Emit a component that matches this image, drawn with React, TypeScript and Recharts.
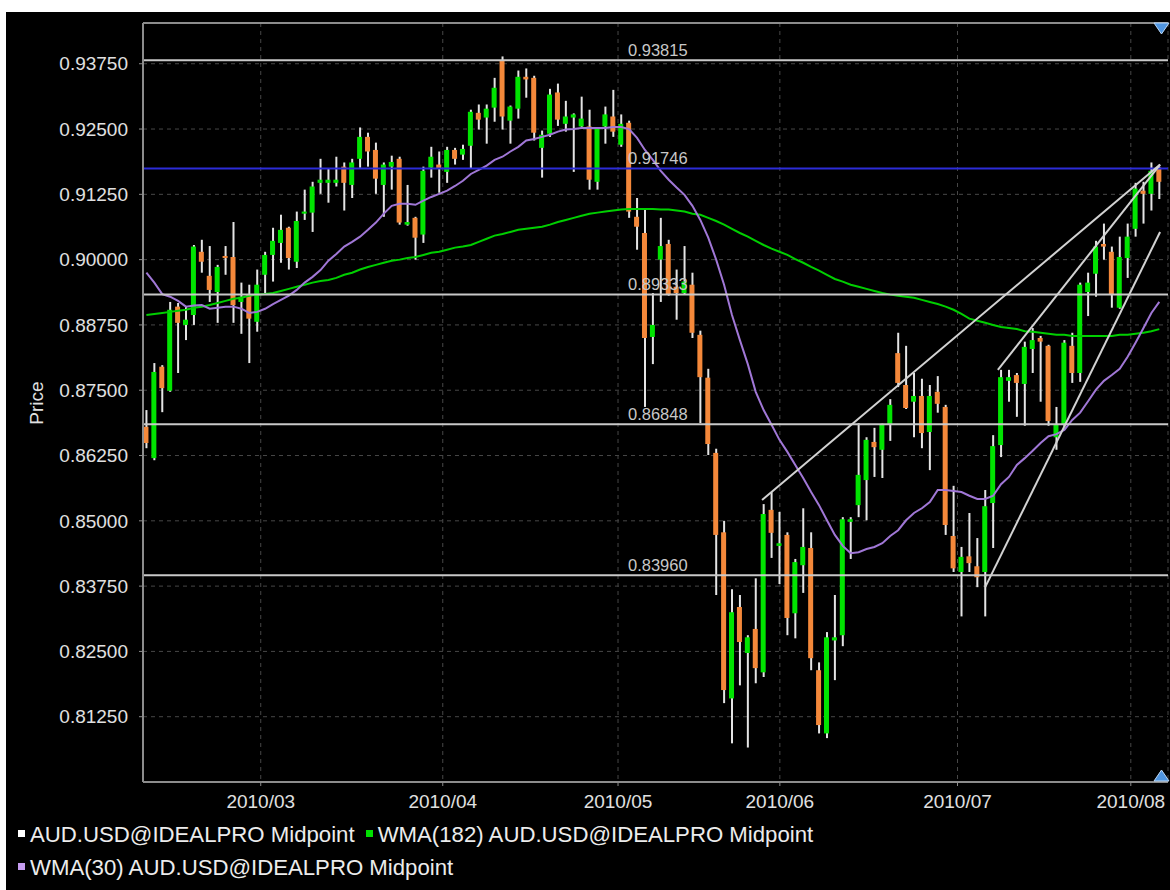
import React from 'react';
import { ComposedChart, Bar, Line, XAxis, YAxis, CartesianGrid, ReferenceLine } from 'recharts';

// daily candles, AUD.USD midpoint (Feb 8 - Aug 5 2010)
const opens = [
  0.868, 0.862, 0.8795, 0.8749, 0.891, 0.8875, 0.8894, 0.9015, 0.8969, 0.8938,
  0.9007, 0.9005, 0.8919, 0.8933, 0.8881, 0.8971, 0.9009, 0.9032, 0.9061, 0.8996,
  0.9088, 0.909, 0.9147, 0.9147, 0.9147, 0.9178, 0.9143, 0.9193, 0.9235, 0.921,
  0.9143, 0.9178, 0.9193, 0.9067, 0.908, 0.9048, 0.9176, 0.9182, 0.9168, 0.921,
  0.9201, 0.9218, 0.9281, 0.9272, 0.9291, 0.9381, 0.9266, 0.9289, 0.935, 0.9348,
  0.9214, 0.9241, 0.932, 0.926, 0.9272, 0.9255, 0.9255, 0.9149, 0.9255, 0.9274,
  0.922, 0.9262, 0.9082, 0.9051, 0.8852, 0.9, 0.903, 0.8948, 0.8936, 0.8952,
  0.8856, 0.8774, 0.863, 0.8478, 0.816, 0.8335, 0.8247, 0.8293, 0.821, 0.8521,
  0.8452, 0.8473, 0.8323, 0.8415, 0.8448, 0.8214, 0.8093, 0.8271, 0.8281, 0.8498,
  0.853, 0.8578, 0.8651, 0.8636, 0.8685, 0.8821, 0.876, 0.8728, 0.8739, 0.867,
  0.8747, 0.8718, 0.8471, 0.8402, 0.8432, 0.8413, 0.8402, 0.8534, 0.8645, 0.8768,
  0.8779, 0.8762, 0.8829, 0.885, 0.8835, 0.866, 0.8685, 0.8835, 0.8783, 0.8938,
  0.8973, 0.903, 0.9015, 0.8908, 0.9003, 0.9059, 0.9132, 0.9126, 0.9176,
];
const highs = [
  0.8712, 0.8802, 0.8798, 0.8919, 0.8917, 0.891, 0.9028, 0.9038, 0.9026, 0.899,
  0.9026, 0.9072, 0.8956, 0.8952, 0.8981, 0.9015, 0.9061, 0.9086, 0.9063, 0.9092,
  0.9134, 0.9149, 0.9193, 0.9174, 0.9197, 0.9186, 0.9193, 0.9253, 0.9243, 0.9224,
  0.9186, 0.9199, 0.9197, 0.9143, 0.9082, 0.9178, 0.9216, 0.9207, 0.9216, 0.9214,
  0.922, 0.9287, 0.9297, 0.9297, 0.9348, 0.9389, 0.9295, 0.9362, 0.9366, 0.9352,
  0.9247, 0.9327, 0.9337, 0.9304, 0.928, 0.9312, 0.9287, 0.9253, 0.9293, 0.9325,
  0.9278, 0.9266, 0.9118, 0.9096, 0.8936, 0.908, 0.9038, 0.8981, 0.9026, 0.8975,
  0.8864, 0.8791, 0.8638, 0.85, 0.8369, 0.8358, 0.8281, 0.839, 0.8532, 0.8555,
  0.8517, 0.8478, 0.8427, 0.8524, 0.8478, 0.8229, 0.8287, 0.8358, 0.8507, 0.8507,
  0.8687, 0.866, 0.8678, 0.8686, 0.8733, 0.886, 0.8835, 0.8783, 0.8772, 0.876,
  0.8777, 0.8722, 0.8567, 0.845, 0.8515, 0.8467, 0.8559, 0.8664, 0.8789, 0.8789,
  0.8783, 0.8843, 0.8869, 0.8854, 0.8837, 0.8718, 0.8846, 0.886, 0.8956, 0.8975,
  0.9036, 0.9069, 0.9025, 0.9044, 0.9069, 0.9147, 0.9149, 0.9186, 0.9178,
];
const lows = [
  0.8639, 0.8616, 0.8708, 0.8747, 0.8783, 0.8846, 0.8875, 0.8975, 0.8919, 0.8879,
  0.8971, 0.8879, 0.8858, 0.8802, 0.8862, 0.8936, 0.8958, 0.8994, 0.8981, 0.8984,
  0.9076, 0.9053, 0.9126, 0.9109, 0.914, 0.9094, 0.9118, 0.9176, 0.9178, 0.9126,
  0.9082, 0.9134, 0.9067, 0.9065, 0.9, 0.9032, 0.9157, 0.9128, 0.9147, 0.9182,
  0.9191, 0.9175, 0.9249, 0.9222, 0.9264, 0.9249, 0.9222, 0.927, 0.931, 0.9228,
  0.9157, 0.9235, 0.9256, 0.9245, 0.9168, 0.9254, 0.9134, 0.9134, 0.9222, 0.9235,
  0.9216, 0.908, 0.9019, 0.8718, 0.88, 0.8919, 0.8931, 0.8885, 0.8933, 0.885,
  0.8687, 0.8626, 0.8358, 0.8151, 0.8074, 0.8185, 0.8066, 0.8189, 0.8201, 0.8429,
  0.8379, 0.8281, 0.8275, 0.8362, 0.8214, 0.8093, 0.8084, 0.8195, 0.826, 0.8427,
  0.8507, 0.8501, 0.8584, 0.8582, 0.8653, 0.8756, 0.8714, 0.866, 0.8639, 0.8597,
  0.8707, 0.8473, 0.8402, 0.8317, 0.8402, 0.8373, 0.8317, 0.8448, 0.8622, 0.8728,
  0.8699, 0.8682, 0.8783, 0.8728, 0.8682, 0.8636, 0.868, 0.8764, 0.8766, 0.8892,
  0.8929, 0.9, 0.8908, 0.8906, 0.8965, 0.9044, 0.9069, 0.9094, 0.9116,
];
const closes = [
  0.8649, 0.8785, 0.8754, 0.8904, 0.8879, 0.8885, 0.9025, 0.8996, 0.8942, 0.8986,
  0.9003, 0.8913, 0.8929, 0.8887, 0.8952, 0.9009, 0.9036, 0.9057, 0.9003, 0.9074,
  0.9092, 0.914, 0.9153, 0.9153, 0.9153, 0.9147, 0.9186, 0.9235, 0.9207, 0.9155,
  0.9182, 0.9187, 0.9071, 0.9072, 0.9042, 0.917, 0.9197, 0.9174, 0.921, 0.9193,
  0.9212, 0.9283, 0.9268, 0.9289, 0.9329, 0.9274, 0.9293, 0.935, 0.9345, 0.9243,
  0.9239, 0.9316, 0.9268, 0.9274, 0.9278, 0.927, 0.9153, 0.9253, 0.9278, 0.9245,
  0.926, 0.9092, 0.9063, 0.885, 0.8875, 0.9026, 0.8933, 0.8936, 0.8958, 0.886,
  0.8775, 0.8647, 0.8473, 0.8176, 0.8325, 0.8268, 0.8277, 0.8218, 0.8513, 0.8477,
  0.8457, 0.8314, 0.8421, 0.845, 0.8237, 0.8109, 0.8277, 0.8277, 0.8503, 0.8503,
  0.8588, 0.8655, 0.8641, 0.8684, 0.8722, 0.8764, 0.8716, 0.8739, 0.8668, 0.8739,
  0.8724, 0.8492, 0.8409, 0.8431, 0.8419, 0.8392, 0.8528, 0.8643, 0.8775, 0.8775,
  0.8764, 0.8833, 0.8846, 0.8843, 0.8691, 0.8684, 0.8841, 0.8783, 0.8952, 0.8956,
  0.9025, 0.9025, 0.8934, 0.9005, 0.9044, 0.9136, 0.9126, 0.917, 0.9149,
];

const wma30 = [
  0.8975, 0.8956, 0.8934, 0.8929, 0.8921, 0.891, 0.8912, 0.8913, 0.8906, 0.8908,
  0.891, 0.891, 0.8906, 0.8898, 0.89, 0.8906, 0.8915, 0.8923, 0.8931, 0.8942,
  0.8956, 0.8967, 0.898, 0.8998, 0.9011, 0.9025, 0.9034, 0.9044, 0.9057, 0.9071,
  0.9088, 0.9103, 0.9107, 0.9107, 0.9105, 0.9113, 0.912, 0.9126, 0.9132, 0.9141,
  0.9151, 0.9164, 0.9172, 0.918, 0.9191, 0.9197, 0.9207, 0.9216, 0.9228, 0.9231,
  0.9235, 0.9239, 0.9245, 0.9249, 0.925, 0.9252, 0.9252, 0.9252, 0.9252, 0.9254,
  0.9254, 0.925, 0.9233, 0.921, 0.9191, 0.917, 0.9153, 0.9138, 0.9124, 0.9103,
  0.9076, 0.9042, 0.9, 0.8952, 0.8894, 0.8846, 0.88, 0.8747, 0.8712, 0.8684,
  0.8655, 0.8632, 0.8607, 0.8582, 0.8555, 0.853, 0.8501, 0.8473, 0.8452, 0.8438,
  0.844, 0.8446, 0.845, 0.8457, 0.8471, 0.8482, 0.8501, 0.8515, 0.8524, 0.8536,
  0.8559, 0.8559, 0.8557, 0.8555, 0.8548, 0.8542, 0.8542, 0.8548, 0.857, 0.8584,
  0.8607, 0.862, 0.8634, 0.8649, 0.8662, 0.8666, 0.8674, 0.8693, 0.8707, 0.8729,
  0.8751, 0.8768, 0.8779, 0.8791, 0.8814, 0.8841, 0.8869, 0.8898, 0.8919,
];
const wma182 = [
  0.8894, 0.8896, 0.8898, 0.89, 0.8902, 0.8904, 0.8908, 0.891, 0.8913, 0.8917,
  0.8921, 0.8925, 0.8927, 0.8931, 0.8933, 0.8934, 0.8936, 0.894, 0.8944, 0.8948,
  0.8952, 0.8956, 0.8959, 0.8961, 0.8965, 0.8971, 0.8975, 0.8981, 0.8986, 0.899,
  0.8994, 0.8998, 0.9, 0.9003, 0.9005, 0.9009, 0.9013, 0.9015, 0.9019, 0.9023,
  0.9025, 0.9028, 0.9034, 0.904, 0.9046, 0.9049, 0.9053, 0.9057, 0.9059, 0.9061,
  0.9063, 0.9067, 0.9072, 0.9076, 0.908, 0.9084, 0.9088, 0.909, 0.9092, 0.9094,
  0.9096, 0.9097, 0.9097, 0.9097, 0.9097, 0.9096, 0.9096, 0.9094, 0.9092, 0.9088,
  0.9086, 0.908, 0.9074, 0.9067, 0.9059, 0.9051, 0.9044, 0.9036, 0.9028, 0.9021,
  0.9015, 0.9009, 0.9001, 0.8994, 0.8986, 0.8979, 0.8971, 0.8963, 0.8958, 0.8952,
  0.8948, 0.8944, 0.894, 0.8936, 0.8933, 0.8931, 0.8929, 0.8927, 0.8923, 0.8919,
  0.8915, 0.891, 0.8904, 0.8896, 0.8887, 0.8883, 0.8879, 0.8875, 0.8871, 0.8869,
  0.8867, 0.8863, 0.8862, 0.886, 0.8858, 0.8856, 0.8856, 0.8854, 0.8854, 0.8854,
  0.8854, 0.8854, 0.8854, 0.8856, 0.8856, 0.8858, 0.886, 0.8863, 0.8867,
];

// month ticks sit between bars (bar index units)
const monthTicks = [14.45, 37.45, 59.6, 80.05, 102.5, 124.4];
const monthLabels = ['2010/03', '2010/04', '2010/05', '2010/06', '2010/07', '2010/08'];
const priceTicks = [0.8125, 0.825, 0.8375, 0.85, 0.8625, 0.875, 0.8875, 0.9, 0.9125, 0.925, 0.9375];

const levelValues = [0.93815, 0.91746, 0.89333, 0.86848, 0.8396];
const levelLabels = ['0.93815', '0.91746', '0.89333', '0.86848', '0.83960'];

// hand drawn trend lines: [startBar, startPrice, endBar, endPrice]
const trendLines = [
  [77.8, 0.854, 128.1, 0.9182],
  [107.6, 0.8789, 128.1, 0.9182],
  [106.0, 0.8373, 128.1, 0.9053],
];

const legendNames = [
  'AUD.USD@IDEALPRO Midpoint',
  'WMA(182) AUD.USD@IDEALPRO Midpoint',
  'WMA(30) AUD.USD@IDEALPRO Midpoint',
];

const X_DOMAIN = [-0.43, 129.1];
const Y_DOMAIN = [0.8, 0.9453];

const UP = '#00e400';
const DOWN = '#f4883a';
const WICK = '#e4e4e4';
const WMA30_COLOR = '#a077d6';
const WMA182_COLOR = '#00cf00';
const LEVEL = '#c8c8c8';
const BLUE = '#2c2cd8';
const AXIS = '#8c8c8c';
const FONT = '"Liberation Sans", Arial, sans-serif';

const rows = opens.map((open, i) => ({
  i,
  open,
  close: closes[i],
  high: highs[i],
  low: lows[i],
  range: [lows[i], highs[i]],
  wma30: wma30[i],
  wma182: wma182[i],
}));

const Candle = (props: any) => {
  const { x, y, width, height, payload } = props;
  if (x == null || y == null) return null;
  const top = Math.min(y, y + height);
  const h = Math.abs(height);
  const { open, close, high, low } = payload;
  const k = high > low ? h / (high - low) : 0;
  const bodyTop = top + (high - Math.max(open, close)) * k;
  const bodyH = Math.max(2, Math.abs(close - open) * k);
  const cx = x + width / 2 + 0.5;
  return (
    <g>
      <line x1={cx} x2={cx} y1={top} y2={top + h} stroke={WICK} strokeWidth={2} />
      <rect x={x} y={bodyTop} width={width} height={bodyH} fill={close > open ? UP : DOWN} />
    </g>
  );
};

const LevelLabel = (props: any) => {
  const { viewBox, text } = props;
  if (!viewBox) return null;
  return (
    <text x={viewBox.x + 485} y={viewBox.y - 4} fill={LEVEL} fontSize={16.5} fontFamily={FONT}>
      {text}
    </text>
  );
};

const Marker = ({ color }: { color: string }) => (
  <span style={{ display: 'inline-block', width: 7, height: 7, background: color, marginRight: 5, marginBottom: 3 }} />
);

export default function App() {
  const legendColors = ['#ffffff', '#00e000', '#c59cf0'];
  const rowStyle: React.CSSProperties = {
    position: 'absolute',
    left: 12,
    display: 'flex',
    alignItems: 'center',
    height: 26,
    whiteSpace: 'nowrap',
    color: '#ececec',
    fontSize: 22.2,
    fontFamily: FONT,
  };

  return (
    <div style={{ position: 'relative', width: 1170, height: 890, background: '#fff', overflow: 'hidden' }}>
      <style>{'body{margin:0}'}</style>
      <div style={{ position: 'absolute', left: 6, top: 12, width: 1164, height: 878, background: '#000' }}>
        <ComposedChart width={1164} height={810} data={rows} margin={{ top: 11, right: 2, bottom: 0, left: 0 }}>
          <CartesianGrid stroke="#474747" strokeDasharray="4 4" />
          <XAxis
            dataKey="i"
            type="number"
            domain={X_DOMAIN}
            allowDataOverflow
            ticks={monthTicks}
            tickFormatter={(v: number) => monthLabels[monthTicks.indexOf(v)] ?? ''}
            height={40}
            axisLine={{ stroke: AXIS, strokeWidth: 2 }}
            tickLine={{ stroke: AXIS }}
            tickSize={4}
            tickMargin={9}
            tick={{ fill: '#e0e0e0', fontSize: 19, fontFamily: FONT }}
          />
          <YAxis
            type="number"
            domain={Y_DOMAIN}
            allowDataOverflow
            ticks={priceTicks}
            tickFormatter={(v: number) => v.toFixed(5)}
            width={137}
            axisLine={{ stroke: AXIS, strokeWidth: 2 }}
            tickLine={{ stroke: AXIS }}
            tickSize={4}
            tickMargin={11}
            tick={{ fill: '#e0e0e0', fontSize: 19, fontFamily: FONT }}
          />
          <ReferenceLine y={Y_DOMAIN[1]} stroke={AXIS} strokeWidth={2} />
          <Bar dataKey="range" barSize={5} shape={(p: any) => <Candle {...p} />} isAnimationActive={false} />
          <Line
            dataKey="wma182"
            type="linear"
            stroke={WMA182_COLOR}
            strokeWidth={2}
            dot={false}
            activeDot={false}
            isAnimationActive={false}
          />
          <Line
            dataKey="wma30"
            type="linear"
            stroke={WMA30_COLOR}
            strokeWidth={2}
            dot={false}
            activeDot={false}
            isAnimationActive={false}
          />
          {levelValues.map((v, k) => (
            <ReferenceLine
              key={`lvl-${k}`}
              y={v}
              stroke={k === 1 ? BLUE : LEVEL}
              strokeWidth={2}
              label={<LevelLabel text={levelLabels[k]} />}
            />
          ))}
          {trendLines.map((t, k) => (
            <ReferenceLine
              key={`tr-${k}`}
              segment={[
                { x: t[0], y: t[1] },
                { x: t[2], y: t[3] },
              ]}
              stroke="#d2d2d2"
              strokeWidth={2}
            />
          ))}
        </ComposedChart>

        <div
          style={{
            position: 'absolute',
            left: 1,
            top: 379,
            width: 60,
            height: 24,
            lineHeight: '24px',
            textAlign: 'center',
            transform: 'rotate(-90deg)',
            color: '#e0e0e0',
            fontSize: 19,
            fontFamily: FONT,
          }}
        >
          Price
        </div>

        <div style={{ ...rowStyle, top: 810 }}>
          <Marker color={legendColors[0]} />
          <span style={{ marginRight: 11 }}>{legendNames[0]}</span>
          <Marker color={legendColors[1]} />
          <span>{legendNames[1]}</span>
        </div>
        <div style={{ ...rowStyle, top: 843 }}>
          <Marker color={legendColors[2]} />
          <span>{legendNames[2]}</span>
        </div>

        <svg style={{ position: 'absolute', left: 1147, top: 9 }} width={17} height={15}>
          <polygon points="1,2 16,2 8.5,13" fill="#4f95e0" stroke="#bcd8f6" strokeWidth={1} />
        </svg>
        <svg style={{ position: 'absolute', left: 1147, top: 756 }} width={17} height={15}>
          <polygon points="1,13 16,13 8.5,2" fill="#4f95e0" stroke="#bcd8f6" strokeWidth={1} />
        </svg>
      </div>
    </div>
  );
}
